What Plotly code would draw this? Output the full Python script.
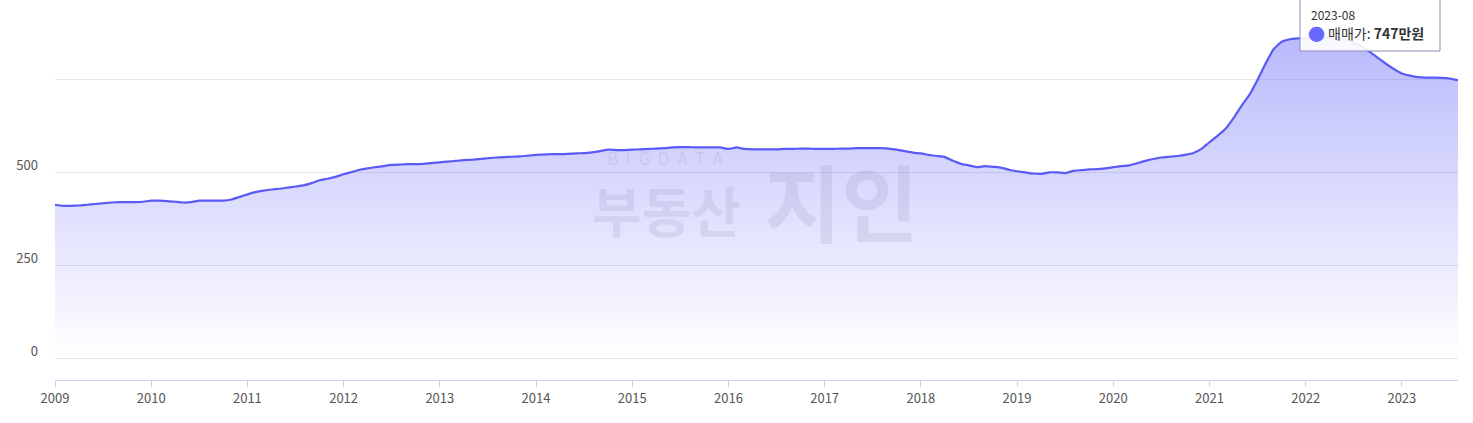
import plotly.graph_objects as go

# monthly 매매가 (만원), 2009-01 .. 2023-08
v2009 = [412, 409, 409, 410, 412, 414, 416, 418, 419, 419, 419, 420]
v2010 = [423, 423, 422, 420, 418, 419, 423, 423, 423, 423, 426, 433]
v2011 = [440, 446, 450, 453, 455, 458, 461, 464, 470, 478, 482, 487]
v2012 = [494, 500, 506, 510, 513, 516, 519, 520, 521, 521, 522, 524]
v2013 = [526, 528, 530, 532, 533, 535, 537, 539, 540, 541, 542, 544]
v2014 = [546, 547, 548, 548, 549, 550, 551, 553, 556, 560, 559, 559]
v2015 = [560, 561, 562, 563, 564, 566, 567, 567, 566, 566, 566, 566]
v2016 = [562, 566, 562, 561, 561, 561, 561, 562, 562, 563, 563, 562]
v2017 = [562, 562, 563, 563, 564, 564, 564, 564, 563, 560, 556, 552]
v2018 = [550, 546, 543, 540, 530, 522, 518, 513, 516, 514, 512, 506]
v2019 = [502, 499, 496, 495, 499, 499, 497, 503, 505, 507, 508, 510]
v2020 = [513, 516, 518, 524, 530, 535, 539, 541, 543, 546, 551, 562]
v2021 = [580, 597, 616, 645, 678, 708, 748, 792, 830, 850, 857, 859]
v2022 = [860, 861, 861, 860, 858, 855, 848, 837, 823, 807, 791, 777]
v2023 = [765, 759, 755, 754, 754, 753, 751, 747]

values = (v2009 + v2010 + v2011 + v2012 + v2013 + v2014 + v2015 + v2016 +
          v2017 + v2018 + v2019 + v2020 + v2021 + v2022 + v2023)
years = list(range(2009, 2024))
months = [f"{y}-{m:02d}" for y in years for m in range(1, 13)][:len(values)]
year_ticks = [f"{y}-01" for y in years]
year_labels = [str(y) for y in years]
y_ticks = [0, 250, 500, 750]
y_labels = ["0", "250", "500", ""]

FONT = "Noto Sans CJK KR"
L, R, T, B = 55, 15, 0, 43
W, H = 1473, 423
PW, PH = W - L - R, H - T - B


def px(xp):
    return (xp - L) / PW


def py(yp):
    return (H - B - yp) / PH


fig = go.Figure()
fig.add_trace(go.Scatter(
    x=months, y=values, mode="lines",
    line=dict(color="#5a5af5", width=2.2, shape="spline", smoothing=0.4),
    fill="tozeroy",
    fillgradient=dict(type="vertical",
                      colorscale=[[0, "rgba(110,110,250,0.0)"],
                                  [1, "rgba(110,110,250,0.48)"]]),
    hoverinfo="skip", showlegend=False,
))

# watermark
wm = "rgba(130,130,165,0.16)"
fig.add_annotation(xref="paper", yref="paper", x=px(665), y=py(158), yanchor="middle",
                   text="B&nbsp;&nbsp;I&nbsp;&nbsp;G&nbsp;&nbsp;D&nbsp;&nbsp;A&nbsp;&nbsp;T&nbsp;&nbsp;A",
                   showarrow=False, font=dict(family=FONT, size=17, color=wm))
fig.add_annotation(xref="paper", yref="paper", x=px(666), y=py(210), yanchor="middle",
                   text="<b>부동산</b>",
                   showarrow=False, font=dict(family=FONT, size=54, color=wm))
fig.add_annotation(xref="paper", yref="paper", x=px(841), y=py(199), yanchor="middle",
                   text="<b>지인</b>",
                   showarrow=False, font=dict(family=FONT, size=84, color=wm))

# tooltip
fig.add_shape(type="rect", xref="paper", yref="paper",
              x0=px(1300), x1=px(1440), y0=py(51), y1=py(-20),
              fillcolor="rgba(255,255,255,0.9)", line=dict(color="#8c8cb4", width=1),
              layer="above")
fig.add_annotation(xref="paper", yref="paper", x=px(1309), y=py(14),
                   xanchor="left", yanchor="middle",
                   text="2023-08", showarrow=False,
                   font=dict(family=FONT, size=12, color="#333333"))
fig.add_annotation(xref="paper", yref="paper", x=px(1316), y=py(33),
                   xanchor="center", yanchor="middle",
                   text="●", showarrow=False,
                   font=dict(family=FONT, size=17, color="#6868ff"))
fig.add_annotation(xref="paper", yref="paper", x=px(1326), y=py(33),
                   xanchor="left", yanchor="middle",
                   text="매매가: <b>747만원</b>", showarrow=False,
                   font=dict(family=FONT, size=14, color="#333333"))

fig.update_layout(
    width=W, height=H,
    margin=dict(l=L, r=R, t=T, b=B),
    paper_bgcolor="white", plot_bgcolor="white",
    font=dict(family=FONT, size=13, color="#555555"),
    xaxis=dict(type="category", range=[0, len(values) - 1], automargin=False,
               tickmode="array", tickvals=year_ticks, ticktext=year_labels,
               showgrid=False, showline=True, linecolor="#c8d3ee", linewidth=1,
               ticks="outside", ticklen=6, tickcolor="#c8d3ee",
               tickfont=dict(family=FONT, size=13, color="#555555")),
    yaxis=dict(range=[-59.1, 962.4], tickmode="array", tickvals=y_ticks, ticktext=y_labels,
               automargin=False,
               showgrid=True, gridcolor="#e6e6e6", gridwidth=1, zeroline=False,
               showline=False, ticks="", ticklabelshift=-7, ticklabelstandoff=16,
               tickfont=dict(family=FONT, size=13, color="#555555")),
)

fig.write_html("out.html", config={"displayModeBar": False},
               post_script="document.body.style.margin='0';document.body.style.overflow='hidden';")
